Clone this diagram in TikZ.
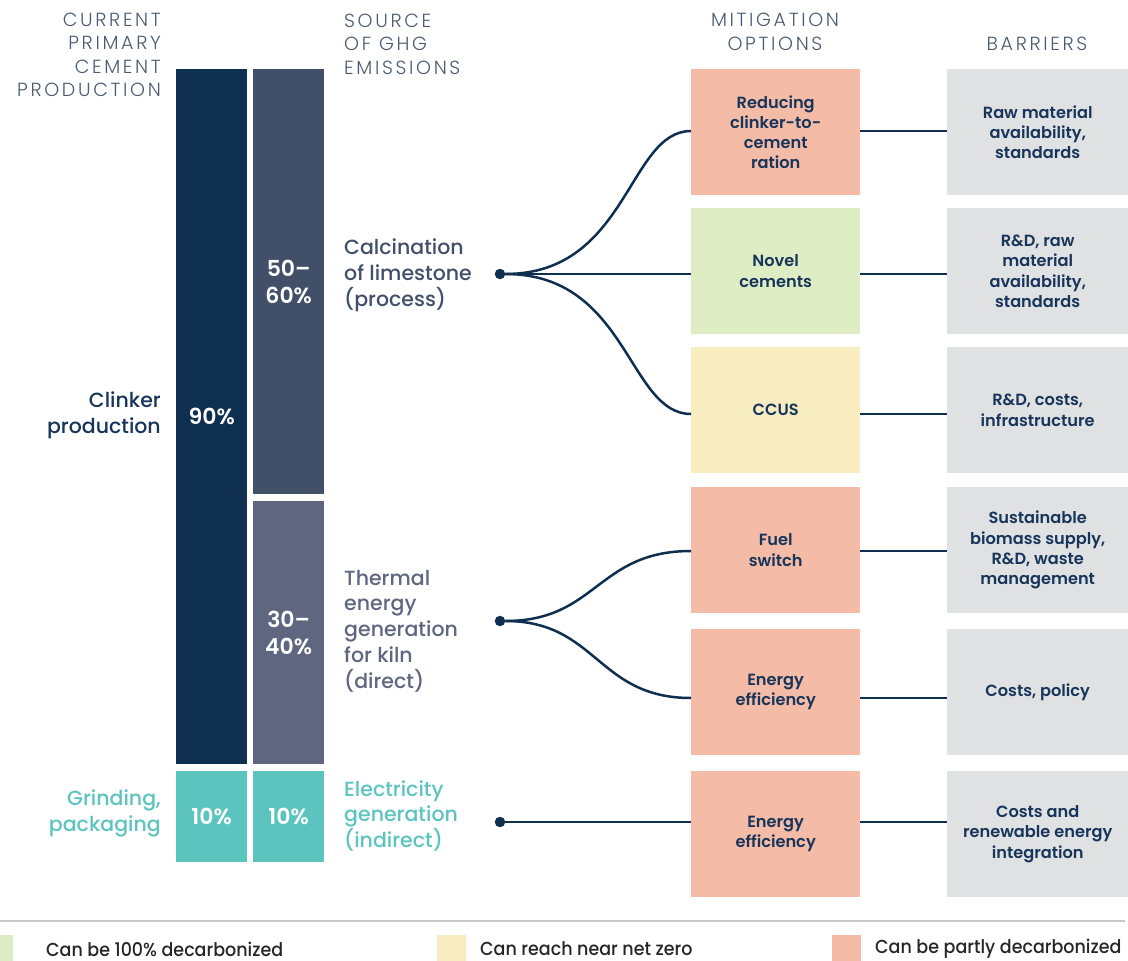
\documentclass[tikz,border=0pt]{standalone}
\usepackage{fontspec}
\setmainfont{Poppins}
\newfontfamily\semifont{Poppins SemiBold}
\newfontfamily\medfont{Poppins Medium}
\newfontfamily\legfont{Poppins Medium}[FakeStretch=0.93]
\newfontfamily\lightfont{Poppins Light}[LetterSpace=14]
\usetikzlibrary{positioning}

\definecolor{navy}{HTML}{0E2F4F}
\definecolor{navytext}{HTML}{17355A}
\definecolor{slatea}{HTML}{414F68}
\definecolor{slateb}{HTML}{5E6680}
\definecolor{tealc}{HTML}{5BC4BF}
\definecolor{salmon}{HTML}{F4BBA6}
\definecolor{greenc}{HTML}{DFEDC4}
\definecolor{yellowc}{HTML}{F8EDC1}
\definecolor{grayc}{HTML}{E0E1E3}
\definecolor{hdrc}{HTML}{4A5B71}
\definecolor{sepc}{HTML}{C5C9CE}

\begin{document}
\begin{tikzpicture}[x=1pt,y=-1pt,
	hdr/.style={font=\lightfont\fontsize{19}{23.5}\selectfont, text=hdrc, inner sep=0},
	barbox/.style={anchor=north west, minimum width=71pt, inner sep=0, text=white,
		align=center, font=\semifont\fontsize{22}{27}\selectfont},
	srclabel/.style={anchor=west, inner sep=0, align=left, font=\medfont\fontsize{20.5}{25.8}\selectfont},
	mitbox/.style={anchor=north west, minimum width=169pt, minimum height=126pt, inner sep=0,
		align=center, text=navytext, font=\semifont\fontsize{16.2}{20.3}\selectfont},
	barrier/.style={mitbox, minimum width=181pt, fill=grayc},
	dot/.style={circle, fill=navy, inner sep=0, minimum size=10.5pt},
	link/.style={draw=navy, line width=2.5pt},
	legtext/.style={anchor=west, inner sep=0, font=\legfont\fontsize{18.8}{20}\selectfont, text=black!85}
]
	\useasboundingbox (0,0) rectangle (1128,961);

	% column headers
	\node[hdr, anchor=east, align=right] (hprod) at (161,55) {CURRENT\\PRIMARY\\CEMENT\\PRODUCTION};
	\node[hdr, anchor=west, align=left] (hsrc) at (344,44) {SOURCE\\OF GHG\\EMISSIONS};
	\node[hdr, align=center] (hmit) at (775,32) {MITIGATION\\OPTIONS};
	\node[hdr] (hbar) at (1037,44) {BARRIERS};

	% stacked bars
	\node[barbox, fill=navy, minimum height=695pt] (clk) at (176,69) {90\%};
	\node[barbox, fill=tealc, minimum height=91pt] (grd) at (176,771) {10\%};
	\node[barbox, fill=slatea, minimum height=425pt] (calc) at (253,69) {50–\\60\%};
	\node[barbox, fill=slateb, minimum height=263pt] (therm) at (253,501) {30–\\40\%};
	\node[barbox, fill=tealc, minimum height=91pt] (elec) at (253,771) {10\%};

	% left and source labels
	\node[srclabel, anchor=east, align=right, text=navytext] (lclk) at (161,415) {Clinker\\production};
	\node[srclabel, anchor=east, align=right, text=tealc] (lgrd) at (161,813) {Grinding,\\packaging};
	\node[srclabel, text=slatea] (lcalc) at (344,275) {Calcination\\of limestone\\(process)};
	\node[srclabel, text=slateb] (ltherm) at (344,631) {Thermal\\energy\\generation\\for kiln\\(direct)};
	\node[srclabel, text=tealc] (lelec) at (344,816) {Electricity\\generation\\(indirect)};

	% branch points
	\node[dot] (dcalc) at (500,274) {};
	\node[dot] (dtherm) at (500,621) {};
	\node[dot] (delec) at (500,822) {};

	% mitigation options
	\node[mitbox, fill=salmon] (m1) at (691,69) {Reducing\\clinker-to-\\cement\\ration};
	\node[mitbox, fill=greenc] (m2) at (691,208) {Novel\\cements};
	\node[mitbox, fill=yellowc] (m3) at (691,347) {CCUS};
	\node[mitbox, fill=salmon] (m4) at (691,487) {Fuel\\switch};
	\node[mitbox, fill=salmon] (m5) at (691,629) {Energy\\efficiency};
	\node[mitbox, fill=salmon] (m6) at (691,771) {Energy\\efficiency};

	% barriers
	\node[barrier] (b1) at (947,69) {Raw material\\availability,\\standards};
	\node[barrier] (b2) at (947,208) {R\&D, raw\\material\\availability,\\standards};
	\node[barrier] (b3) at (947,347) {R\&D, costs,\\infrastructure};
	\node[barrier] (b4) at (947,487) {Sustainable\\biomass supply,\\R\&D, waste\\management};
	\node[barrier] (b5) at (947,629) {Costs, policy};
	\node[barrier] (b6) at (947,771) {Costs and\\renewable energy\\integration};

	% port heights
	\coordinate (p1) at (0,131);
	\coordinate (p3) at (0,414);
	\coordinate (p4) at (0,551);
	\coordinate (p5) at (0,698);

	% connectors
	\draw[link] (dcalc) .. controls (628,274) and (628,131) .. (m1.west |- p1);
	\draw[link] (dcalc) -- (m2.west |- dcalc);
	\draw[link] (dcalc) .. controls (628,274) and (628,414) .. (m3.west |- p3);
	\draw[link] (dtherm) .. controls (597,621) and (597,551) .. (m4.west |- p4);
	\draw[link] (dtherm) .. controls (597,621) and (597,698) .. (m5.west |- p5);
	\draw[link] (delec) -- (m6.west |- delec);

	\draw[link] (m1.east |- p1) -- (b1.west |- p1);
	\draw[link] (m2.east |- dcalc) -- (b2.west |- dcalc);
	\draw[link] (m3.east |- p3) -- (b3.west |- p3);
	\draw[link] (m4.east |- p4) -- (b4.west |- p4);
	\draw[link] (m5.east |- p5) -- (b5.west |- p5);
	\draw[link] (m6.east |- delec) -- (b6.west |- delec);

	% legend
	\draw[sepc, line width=2pt] (0,921) -- (1125,921);
	\fill[greenc] (0,935) rectangle (13,961);
	\fill[yellowc] (437,935) rectangle (466,961);
	\fill[salmon] (832,935) rectangle (861,961);
	\node[legtext] (lg1) at (46,949) {Can be 100\% decarbonized};
	\node[legtext] (lg2) at (480,949) {Can reach near net zero};
	\node[legtext] (lg3) at (875,949) {Can be partly decarbonized};
\end{tikzpicture}
\end{document}
